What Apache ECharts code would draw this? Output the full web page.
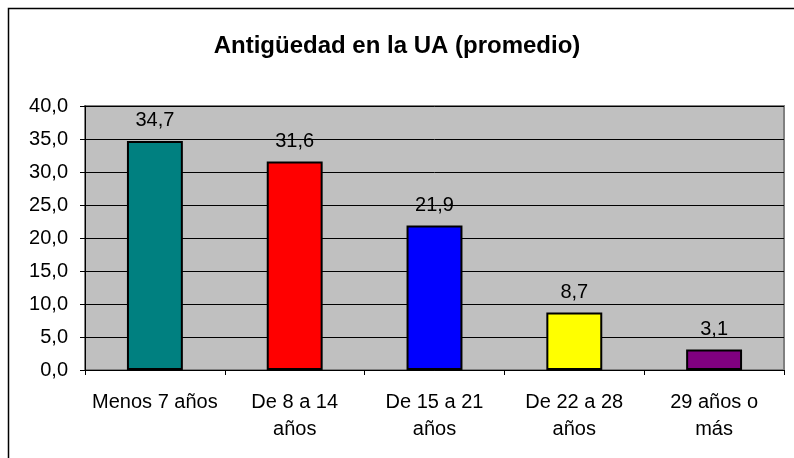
<!DOCTYPE html>
<html>
<head>
<meta charset="utf-8">
<script src="https://cdn.jsdelivr.net/npm/echarts@6/dist/echarts.min.js"></script>
<style>html,body{margin:0;padding:0;background:#fff}#c{width:794px;height:458px}</style>
</head>
<body>
<div id="c"></div>
<script>
var categories = ['Menos 7 años', 'De 8 a 14\naños', 'De 15 a 21\naños', 'De 22 a 28\naños', '29 años o\nmás'];
var values = [34.7, 31.6, 21.9, 8.7, 3.1];
var barColors = ['#008080', '#FF0000', '#0000FF', '#FFFF00', '#800080'];
var titleText = 'Antigüedad en la UA (promedio)';

function fmt(v) { return v.toFixed(1).replace('.', ','); }

var chart = echarts.init(document.getElementById('c'), null, {renderer: 'canvas'});
chart.setOption({
  animation: false,
  textStyle: {fontFamily: 'Liberation Sans, Arial, sans-serif'},
  title: {
    text: titleText,
    left: 'center',
    top: 29,
    textStyle: {fontFamily: 'Liberation Sans, Arial, sans-serif', fontSize: 24, fontWeight: 'bold', color: '#000'}
  },
  graphic: [{
    type: 'rect',
    shape: {x: 8.5, y: 8.5, width: 820, height: 480},
    style: {fill: 'none', stroke: '#000', lineWidth: 1.5},
    z: 100
  }],
  grid: {
    left: 85, top: 106, right: 10, bottom: 88,
    show: true, backgroundColor: '#C0C0C0', borderColor: '#808080', borderWidth: 2
  },
  xAxis: {
    type: 'category',
    data: categories,
    axisLine: {lineStyle: {color: '#000', width: 1}},
    axisTick: {show: true, alignWithLabel: false, length: 5, lineStyle: {color: '#000'}},
    axisLabel: {color: '#000', fontSize: 20, lineHeight: 27, margin: 19, interval: 0}
  },
  yAxis: {
    type: 'value',
    min: 0, max: 40, interval: 5,
    axisLine: {show: true, lineStyle: {color: '#000', width: 1}},
    axisTick: {show: true, length: 5, lineStyle: {color: '#000'}},
    axisLabel: {color: '#000', fontSize: 20, margin: 17, formatter: fmt},
    splitLine: {show: true, lineStyle: {color: '#000', width: 1}}
  },
  series: [{
    type: 'bar',
    barWidth: '40%',
    data: values.map(function (v, i) {
      return {value: v, itemStyle: {color: barColors[i], borderColor: '#000', borderWidth: 2}};
    }),
    label: {
      show: true, position: 'top', distance: 10, color: '#000', fontSize: 20,
      formatter: function (p) { return fmt(p.value); }
    }
  }]
});
</script>
</body>
</html>
